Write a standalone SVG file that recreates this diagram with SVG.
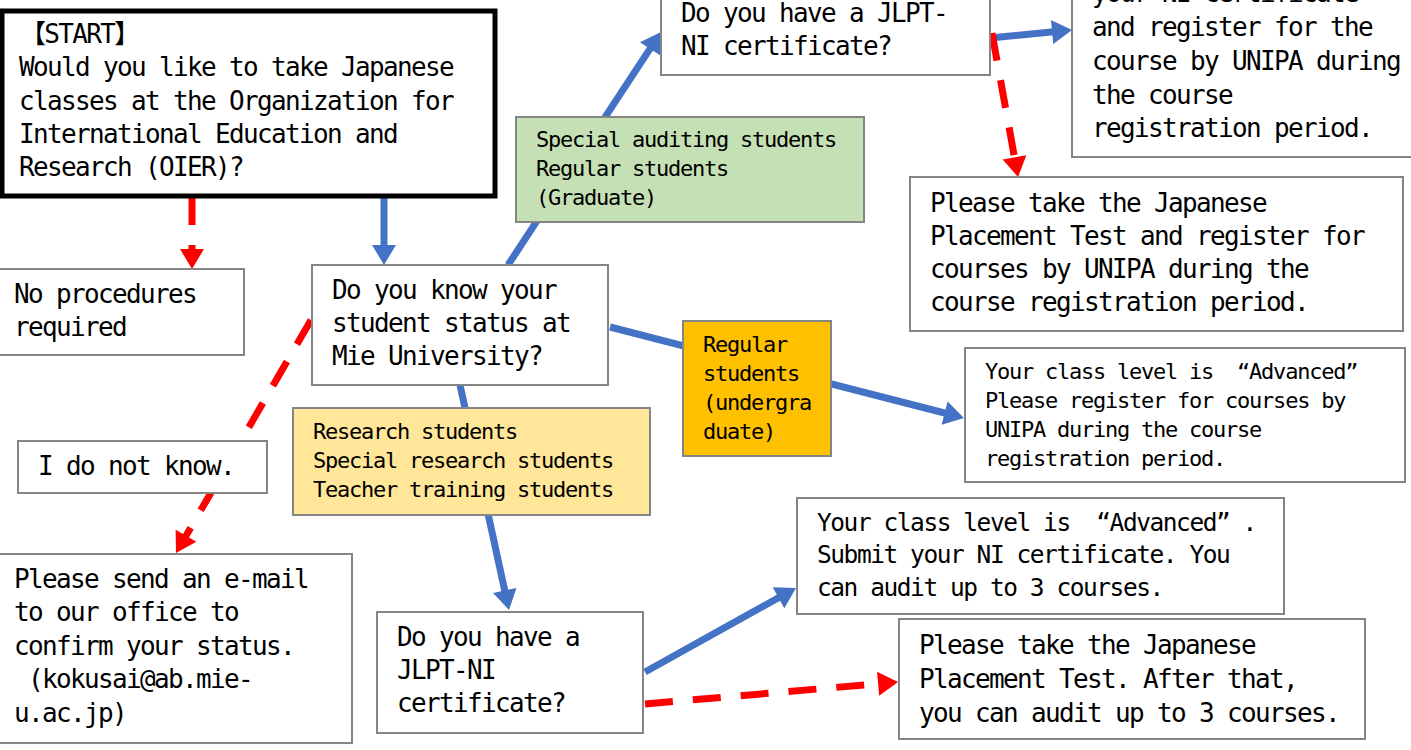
<svg xmlns="http://www.w3.org/2000/svg" width="1411" height="750" viewBox="0 0 1411 750">
<style>
.box{fill:#ffffff;stroke:#858585;stroke-width:2}
.start{fill:#ffffff;stroke:#000000;stroke-width:5}
.green{fill:#c5e0b4;stroke:#858585;stroke-width:2}
.orange{fill:#ffc000;stroke:#858585;stroke-width:2}
.yellow{fill:#ffe699;stroke:#858585;stroke-width:2}
text{font-family:"DejaVu Sans Mono","Noto Sans CJK JP",monospace;fill:#000000;white-space:pre}
.t28{font-size:26px;letter-spacing:-1.65px}
.t27{font-size:24.5px;letter-spacing:-1.45px}
.t24{font-size:22px;letter-spacing:-1.24px}
.blue{stroke:#4472c4;stroke-width:7;fill:none;marker-end:url(#ab)}
.red{stroke:#ff0000;stroke-width:7;fill:none;stroke-dasharray:28 20;marker-end:url(#ar)}
</style>
<defs>
<marker id="ab" markerUnits="userSpaceOnUse" markerWidth="22" markerHeight="24" refX="4" refY="12" orient="auto" overflow="visible">
<path d="M0,0 L20,12 L0,24 z" fill="#4472c4"/>
</marker>
<marker id="ar" markerUnits="userSpaceOnUse" markerWidth="22" markerHeight="24" refX="4" refY="12" orient="auto" overflow="visible">
<path d="M0,0 L20,12 L0,24 z" fill="#ff0000"/>
</marker>
</defs>
<rect width="1411" height="750" fill="#ffffff"/>
<g id="connectors">
<line class="blue" x1="384" y1="197" x2="384" y2="249"/>
<line class="blue" x1="508" y1="265" x2="652.2" y2="45.4"/>
<line class="blue" x1="610" y1="327" x2="948.5" y2="414"/>
<line class="blue" x1="460" y1="385" x2="505.6" y2="594.4"/>
<line class="blue" x1="645" y1="672" x2="782" y2="595.8"/>
<line class="blue" x1="990" y1="38" x2="1056.1" y2="31.55"/>
<line class="red" x1="192" y1="197" x2="192" y2="253"/>
<line class="red" x1="992" y1="33" x2="1015.2" y2="161.3"/>
<line class="red" x1="311" y1="320" x2="184" y2="539.2"/>
<line class="red" x1="645" y1="704" x2="882.1" y2="683.4"/>
</g>
<g id="start">
<rect class="start" x="2" y="11" width="493" height="185"/>
<text class="t28"><tspan x="20" y="43">【START】</tspan><tspan x="19" y="76">Would you like to take Japanese</tspan><tspan x="19" y="110">classes at the Organization for</tspan><tspan x="19" y="143">International Education and</tspan><tspan x="19" y="176">Research (OIER)?</tspan></text>
</g>
<g id="no-procedures">
<rect class="box" x="-5" y="269" width="249" height="86"/>
<text class="t28"><tspan x="14" y="303">No procedures</tspan><tspan x="14" y="336">required</tspan></text>
</g>
<g id="know-status">
<rect class="box" x="312" y="265" width="296" height="120"/>
<text class="t28"><tspan x="332" y="299">Do you know your</tspan><tspan x="332" y="332">student status at</tspan><tspan x="332" y="365">Mie University?</tspan></text>
</g>
<g id="not-know">
<rect class="box" x="18" y="441" width="249" height="52"/>
<text class="t28"><tspan x="38" y="475">I do not know.</tspan></text>
</g>
<g id="graduate">
<rect class="green" x="516" y="117" width="348" height="105"/>
<text class="t24"><tspan x="536" y="147">Special auditing students</tspan><tspan x="536" y="176">Regular students</tspan><tspan x="536" y="205">(Graduate)</tspan></text>
</g>
<g id="jlpt-top">
<rect class="box" x="661" y="-5" width="329" height="80"/>
<text class="t28"><tspan x="681" y="22">Do you have a JLPT-</tspan><tspan x="681" y="55">NI certificate?</tspan></text>
</g>
<g id="submit-register">
<rect class="box" x="1072" y="-5" width="348" height="162"/>
<text class="t28"><tspan x="1092" y="2">your NI certificate</tspan><tspan x="1092" y="36">and register for the</tspan><tspan x="1092" y="70">course by UNIPA during</tspan><tspan x="1092" y="104">the course</tspan><tspan x="1092" y="137">registration period.</tspan></text>
</g>
<g id="placement-register">
<rect class="box" x="910" y="177" width="493" height="154"/>
<text class="t28"><tspan x="930" y="212">Please take the Japanese</tspan><tspan x="930" y="245">Placement Test and register for</tspan><tspan x="930" y="278">courses by UNIPA during the</tspan><tspan x="930" y="311">course registration period.</tspan></text>
</g>
<g id="undergraduate">
<rect class="orange" x="683" y="321" width="148" height="135"/>
<text class="t24"><tspan x="703" y="352">Regular</tspan><tspan x="703" y="381">students</tspan><tspan x="703" y="410">(undergra</tspan><tspan x="703" y="439">duate)</tspan></text>
</g>
<g id="advanced-register">
<rect class="box" x="965" y="348" width="440" height="134"/>
<text class="t24"><tspan x="985" y="379">Your class level is  “Advanced”</tspan><tspan x="985" y="408">Please register for courses by</tspan><tspan x="985" y="437">UNIPA during the course</tspan><tspan x="985" y="466">registration period.</tspan></text>
</g>
<g id="research">
<rect class="yellow" x="293" y="408" width="357" height="107"/>
<text class="t24"><tspan x="313" y="439">Research students</tspan><tspan x="313" y="468">Special research students</tspan><tspan x="313" y="497">Teacher training students</tspan></text>
</g>
<g id="email">
<rect class="box" x="-5" y="554" width="357" height="189"/>
<text class="t28"><tspan x="14" y="588">Please send an e-mail</tspan><tspan x="14" y="621">to our office to</tspan><tspan x="14" y="655">confirm your status.</tspan><tspan x="14" y="688"> (kokusai@ab.mie-</tspan><tspan x="14" y="722">u.ac.jp)</tspan></text>
</g>
<g id="jlpt-bottom">
<rect class="box" x="377" y="612" width="266" height="121"/>
<text class="t28"><tspan x="397" y="646">Do you have a</tspan><tspan x="397" y="679">JLPT-NI</tspan><tspan x="397" y="712">certificate?</tspan></text>
</g>
<g id="advanced-audit">
<rect class="box" x="797" y="498" width="487" height="116"/>
<text class="t27"><tspan x="817" y="531">Your class level is  “Advanced” .</tspan><tspan x="817" y="563">Submit your NI certificate. You</tspan><tspan x="817" y="596">can audit up to 3 courses.</tspan></text>
</g>
<g id="placement-audit">
<rect class="box" x="899" y="619" width="466" height="120"/>
<text class="t28"><tspan x="919" y="654">Please take the Japanese</tspan><tspan x="919" y="688">Placement Test. After that,</tspan><tspan x="919" y="722">you can audit up to 3 courses.</tspan></text>
</g>
</svg>
